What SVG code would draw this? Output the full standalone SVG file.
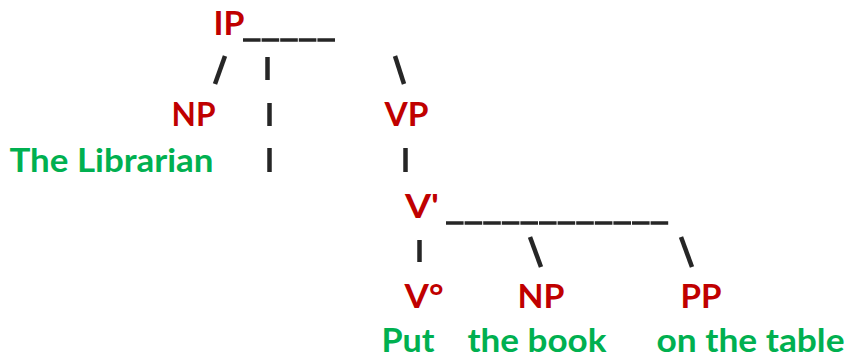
<svg xmlns="http://www.w3.org/2000/svg" width="847" height="358" viewBox="0 0 847 358">
<style>
text{font-family:Lato,"Open Sans","Liberation Sans",sans-serif;font-weight:bold;font-size:33px}
.cat{fill:#C00000}
.word{fill:#00B050}
.ln{stroke:#262626;stroke-width:4.5;fill:none}
.us{stroke:#262626;stroke-width:3.5;fill:none;stroke-dasharray:17.6 1}
</style>
<rect width="847" height="358" fill="#ffffff"/>
<g id="connectors">
<line class="us" x1="243" y1="40" x2="336" y2="40"/>
<line class="ln" x1="225" y1="56" x2="215" y2="84"/>
<line class="ln" x1="267.5" y1="57" x2="267.5" y2="80"/>
<line class="ln" x1="395" y1="56" x2="404" y2="84"/>
<line class="ln" x1="269.5" y1="103" x2="269.5" y2="126"/>
<line class="ln" x1="269.5" y1="148" x2="269.5" y2="172"/>
<line class="ln" x1="405.5" y1="148" x2="405.5" y2="172"/>
<line class="us" x1="446" y1="223" x2="669" y2="223"/>
<line class="ln" x1="419.5" y1="240" x2="419.5" y2="262"/>
<line class="ln" x1="530" y1="237" x2="541" y2="267"/>
<line class="ln" x1="681" y1="237" x2="692" y2="267"/>
</g>
<g id="node-IP"><text class="cat" x="213.5" y="35" textLength="31" lengthAdjust="spacingAndGlyphs">IP</text></g>
<g id="node-NP1"><text class="cat" x="171.5" y="126" textLength="44" lengthAdjust="spacingAndGlyphs">NP</text></g>
<g id="node-VP"><text class="cat" x="384.5" y="126" textLength="44" lengthAdjust="spacingAndGlyphs">VP</text></g>
<g id="word-librarian"><text class="word" x="9.5" y="172" textLength="204" lengthAdjust="spacingAndGlyphs">The Librarian</text></g>
<g id="node-Vbar"><text class="cat" x="405" y="218" textLength="34" lengthAdjust="spacingAndGlyphs">V'</text></g>
<g id="node-V0"><text class="cat" x="404.5" y="308" textLength="39" lengthAdjust="spacingAndGlyphs">V°</text></g>
<g id="node-NP2"><text class="cat" x="517.5" y="308" textLength="47" lengthAdjust="spacingAndGlyphs">NP</text></g>
<g id="node-PP"><text class="cat" x="680.5" y="308" textLength="41" lengthAdjust="spacingAndGlyphs">PP</text></g>
<g id="word-put"><text class="word" x="381.5" y="352" textLength="53" lengthAdjust="spacingAndGlyphs">Put</text></g>
<g id="word-book"><text class="word" x="467.5" y="352" textLength="139" lengthAdjust="spacingAndGlyphs">the book</text></g>
<g id="word-table"><text class="word" x="656.5" y="352" textLength="188" lengthAdjust="spacingAndGlyphs">on the table</text></g>
</svg>
